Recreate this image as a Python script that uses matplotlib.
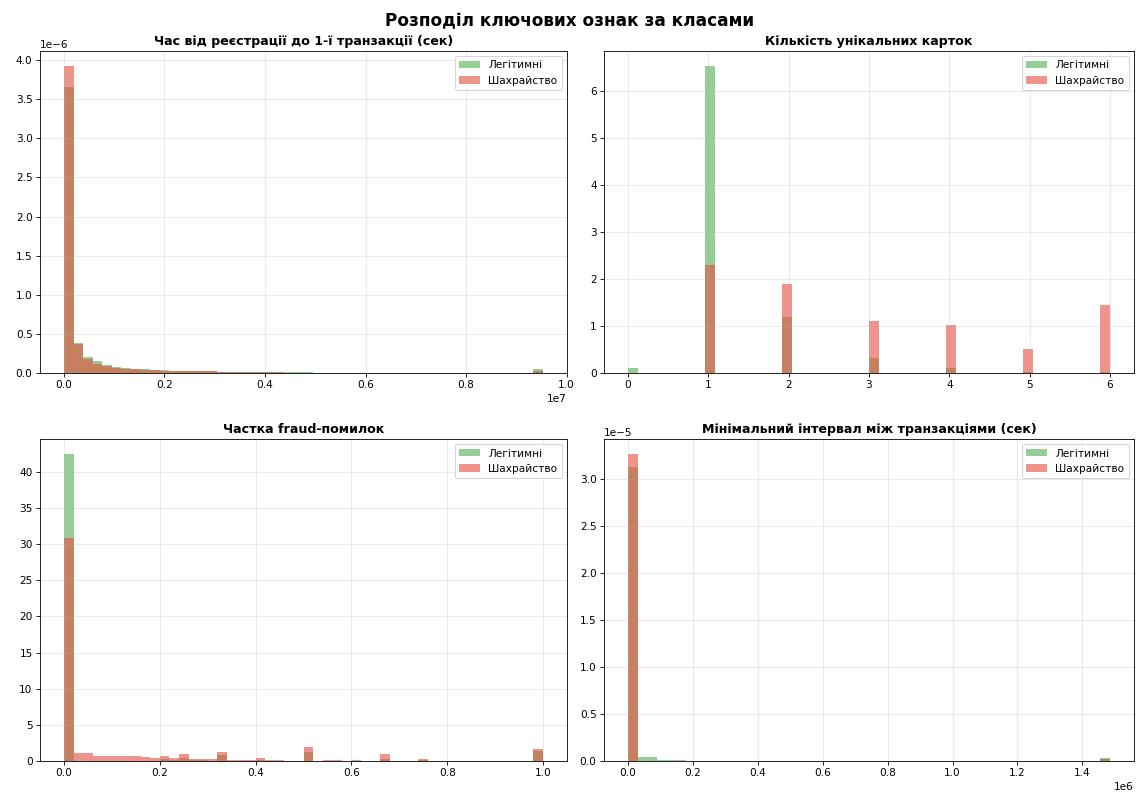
import numpy as np
import matplotlib
matplotlib.use("Agg")
import matplotlib.pyplot as plt

LABEL_LEGIT = "Легітимні"
LABEL_FRAUD = "Шахрайство"

# --- Час від реєстрації до 1-ї транзакції: 50 бінів 0 .. 9.53e6, щільність
reg_max = 9.53e6
reg_legit = [3.65e-6, 0.38e-6, 0.21e-6, 0.15e-6, 0.105e-6, 0.08e-6, 0.065e-6, 0.05e-6, 0.045e-6, 0.04e-6,
             0.035e-6, 0.03e-6, 0.028e-6, 0.025e-6, 0.022e-6, 0.02e-6, 0.018e-6, 0.016e-6, 0.015e-6, 0.014e-6,
             0.012e-6, 0.011e-6, 0.01e-6, 0.009e-6, 0.008e-6, 0.007e-6, 0.006e-6, 0.005e-6, 0.002e-6, 0.001e-6,
             0.001e-6, 0, 0, 0, 0, 0, 0, 0, 0, 0,
             0, 0, 0, 0, 0, 0, 0, 0, 0, 0.045e-6]
reg_fraud = [3.92e-6, 0.37e-6, 0.185e-6, 0.12e-6, 0.09e-6, 0.07e-6, 0.055e-6, 0.045e-6, 0.04e-6, 0.035e-6,
             0.03e-6, 0.028e-6, 0.026e-6, 0.024e-6, 0.022e-6, 0.02e-6, 0.018e-6, 0.016e-6, 0.014e-6, 0.012e-6,
             0.01e-6, 0.008e-6, 0.007e-6, 0.006e-6, 0.005e-6, 0.004e-6, 0.003e-6, 0.002e-6, 0.001e-6, 0,
             0, 0, 0, 0, 0, 0, 0, 0, 0, 0,
             0, 0, 0, 0, 0, 0, 0, 0, 0, 0.025e-6]

# --- Кількість унікальних карток: значення 0..6, 50 бінів 0 .. 6
cards = [0, 1, 2, 3, 4, 5, 6]
cards_legit = [0.1, 6.52, 1.2, 0.32, 0.1, 0.02, 0.03]
cards_fraud = [0.0, 2.3, 1.9, 1.1, 1.02, 0.52, 1.44]

# --- Частка fraud-помилок: 50 бінів 0 .. 1
frac_legit = [42.4, 0.05, 0.05, 0.05, 0.05, 0.05, 0.05, 0.05, 0.05, 0.05,
              0.3, 0.1, 0.4, 0.1, 0.1, 0.05, 0.8, 0.05, 0.05, 0.05,
              0.2, 0.05, 0.05, 0, 0, 1.2, 0, 0.05, 0.05, 0,
              0.05, 0, 0, 0.3, 0, 0, 0, 0.1, 0, 0,
              0, 0, 0, 0, 0, 0, 0, 0, 0, 1.45]
frac_fraud = [30.9, 1.1, 1.05, 0.75, 0.75, 0.75, 0.7, 0.65, 0.6, 0.35,
              0.7, 0.45, 0.95, 0.3, 0.3, 0.25, 1.3, 0.1, 0.15, 0.1,
              0.4, 0.15, 0.1, 0, 0, 2.0, 0, 0.1, 0.1, 0,
              0.15, 0, 0, 1.0, 0, 0, 0, 0.3, 0, 0,
              0, 0, 0, 0, 0, 0, 0, 0, 0, 1.6]

# --- Мінімальний інтервал між транзакціями: 50 бінів 0 .. 1.485e6
gap_max = 1.485e6
gap_legit = [3.13e-5, 0.04e-5, 0.04e-5, 0.015e-5, 0.015e-5, 0.012e-5, 0.003e-5, 0.002e-5, 0.001e-5, 0,
             0, 0, 0, 0, 0, 0, 0, 0, 0, 0,
             0, 0, 0, 0, 0, 0, 0, 0, 0, 0,
             0, 0, 0, 0, 0, 0, 0, 0, 0, 0,
             0, 0, 0, 0, 0, 0, 0, 0, 0, 0.035e-5]
gap_fraud = [3.26e-5, 0.005e-5, 0.003e-5, 0, 0, 0, 0, 0, 0, 0,
             0, 0, 0, 0, 0, 0, 0, 0, 0, 0,
             0, 0, 0, 0, 0, 0, 0, 0, 0, 0,
             0, 0, 0, 0, 0, 0, 0, 0, 0, 0,
             0, 0, 0, 0, 0, 0, 0, 0, 0, 0.02e-5]

GREEN = "#2ca02c"
RED = "#e74c3c"


def draw(ax, edges, x_legit, w_legit, x_fraud, w_fraud, title):
    ax.hist(x_legit, bins=edges, weights=w_legit, color=GREEN, alpha=0.5, label=LABEL_LEGIT)
    ax.hist(x_fraud, bins=edges, weights=w_fraud, color=RED, alpha=0.6, label=LABEL_FRAUD)
    ax.set_title(title, fontsize=12, fontweight="bold")
    ax.legend(loc="upper right")
    ax.grid(True, alpha=0.3)


def centers(edges):
    return (edges[:-1] + edges[1:]) / 2


fig, axes = plt.subplots(2, 2, figsize=(15, 10.47))
fig.suptitle("Розподіл ключових ознак за класами", fontsize=16, fontweight="bold", y=0.985)

e1 = np.linspace(0, reg_max, 51)
draw(axes[0, 0], e1, centers(e1), reg_legit, centers(e1), reg_fraud,
     "Час від реєстрації до 1-ї транзакції (сек)")

e2 = np.linspace(0, 6, 51)
draw(axes[0, 1], e2, cards, cards_legit, cards, cards_fraud, "Кількість унікальних карток")

e3 = np.linspace(0, 1, 51)
draw(axes[1, 0], e3, centers(e3), frac_legit, centers(e3), frac_fraud, "Частка fraud-помилок")

e4 = np.linspace(0, gap_max, 51)
draw(axes[1, 1], e4, centers(e4), gap_legit, centers(e4), gap_fraud,
     "Мінімальний інтервал між транзакціями (сек)")

W, H = 1139, 795
cols = [(40, 527), (604, 530)]
rows = [(51, 322), (439, 322)]
for r, (top, h) in enumerate(rows):
    for c, (left, w) in enumerate(cols):
        axes[r, c].set_position([left / W, 1 - (top + h) / H, w / W, h / H])

fig.savefig("out.png", dpi=1139 / 15)
